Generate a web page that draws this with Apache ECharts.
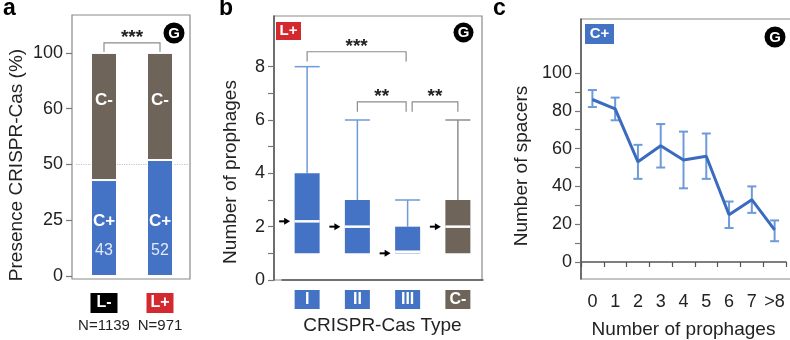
<!DOCTYPE html>
<html>
<head>
<meta charset="utf-8">
<script src="https://cdn.jsdelivr.net/npm/echarts@6/dist/echarts.min.js"></script>
<style>
html, body { margin: 0; padding: 0; background: #fff; }
#chart { width: 790px; height: 340px; }
</style>
</head>
<body>
<div id="chart"></div>
<script>
// ---- panel a : presence of CRISPR-Cas
var groupsA = ['L-', 'L+'];
var countsA = ['N=1139', 'N=971'];
var cPlusA = [43, 52];
var cMinusA = [57, 48];
var ticksA = [0, 25, 50, 75, 100];
var tickLabelsA = ['0', '25', '50', '60', '100'];
var bracketA = [[0, 1, 104.5, 100.5]]; // from cat, to cat, top, foot

// ---- panel b : prophages per CRISPR-Cas type
var typesB = ['I', 'II', 'III', 'C-'];
var boxB = [ // min, q1, median, q3, max
    [1, 1, 2.2, 4, 8],
    [1, 1, 2, 3, 6],
    [1, 1, 1.06, 2, 3],
    [1, 1, 2, 3, 6]
];
var arrowB = [2.2, 2, 1, 2];
var ticksB = [0, 1, 2, 3, 4, 5, 6, 7, 8];
var tickLabelsB = [0, 2, 4, 6, 8];
var bracketB = [ // from cat offset, to cat offset, top, foot
    [0, 1.97, 8.56, 8.19],
    [1, 1.97, 6.68, 6.31],
    [2.09, 3, 6.68, 6.31]
];
var starsB = ['***', '**', '**'];

// ---- panel c : spacers vs prophages
var prophagesC = ['0', '1', '2', '3', '4', '5', '6', '7', '>8'];
var spacersC = [86, 81, 53, 61.5, 54, 56, 25, 33, 17];
var spacersLow = [82, 75, 44, 50, 39, 44, 18, 26, 11];
var spacersHigh = [91, 87, 62, 73, 69, 68, 32, 40, 22];
var ticksC = [0, 10, 20, 30, 40, 50, 60, 70, 80, 90, 100];
var tickLabelsC = [0, 20, 40, 60, 80, 100];

var FONT = 'Liberation Sans, Arial, sans-serif';
var BLUE = '#4472c4';
var BROWN = '#6e6459';
var RED = '#d42a2f';

var chart = echarts.init(document.getElementById('chart'));

function bracketRender(stars) {
    return function (params, api) {
        var w = api.size([1, 0])[0];
        var c0 = api.coord([0, api.value(2)]);
        var x1 = c0[0] + api.value(0) * w;
        var x2 = c0[0] + api.value(1) * w;
        var yTop = c0[1];
        var yFoot = api.coord([0, api.value(3)])[1];
        var st = { stroke: '#8c8c8c', lineWidth: 1.2, fill: null };
        return {
            type: 'group',
            children: [
                { type: 'polyline', shape: { points: [[x1, yFoot], [x1, yTop], [x2, yTop], [x2, yFoot]] }, style: st },
                { type: 'text', x: (x1 + x2) / 2, y: yTop - 5,
                  style: { text: stars[params.dataIndex], fontSize: 19, fontWeight: 'bold', fontFamily: FONT,
                           fill: '#222', align: 'center', verticalAlign: 'middle' } }
            ]
        };
    };
}

// y axis with custom tick / label values; shift moves the centred name down
function yAxisBase(grid, min, max, ticks, labels, name, gap, shift, offset, lineColor) {
    return {
        type: 'value', gridIndex: grid, min: min, max: max, offset: offset,
        name: name, nameLocation: 'middle', nameGap: gap,
        nameTextStyle: { fontSize: 19, color: '#222', fontFamily: FONT, padding: [0, shift, 0, 0] },
        axisLine: { show: !!lineColor, lineStyle: { color: lineColor || '#888', width: 1.5 } },
        axisTick: { show: true, length: 6, customValues: ticks, lineStyle: { color: '#777', width: 1.2 } },
        axisLabel: { customValues: labels, fontSize: 18, color: '#222', fontFamily: FONT, margin: 9 },
        splitLine: { show: false }
    };
}

var yA = yAxisBase(0, -1.35, 117, ticksA, ticksA, 'Presence CRISPR-Cas (%)', 46, 36, 4, null);
yA.axisLabel.formatter = function (v) { return tickLabelsA[ticksA.indexOf(v)]; };
var yB = yAxisBase(1, 0, 9.9, ticksB, tickLabelsB, 'Number of prophages', 34, 48, 8, '#555');
var yC = yAxisBase(2, -9, 128.6, ticksC, tickLabelsC, 'Number of spacers', 50, 34, 0, '#555');

var richA = {
    k0: { backgroundColor: '#000', color: '#fff', fontWeight: 'bold', fontSize: 16, width: 27, height: 20, lineHeight: 20, align: 'center', fontFamily: FONT },
    k1: { backgroundColor: RED, color: '#fff', fontWeight: 'bold', fontSize: 16, width: 27, height: 20, lineHeight: 20, align: 'center', fontFamily: FONT },
    n: { fontSize: 15, color: '#222', lineHeight: 26, fontFamily: FONT }
};
var richB = {};
typesB.forEach(function (t, i) {
    richB['t' + i] = { backgroundColor: i === 3 ? BROWN : BLUE, color: '#fff', fontWeight: 'bold', fontSize: 16,
                       width: 25, height: 19, lineHeight: 19, align: 'center', fontFamily: FONT };
});

var option = {
    animation: false,
    textStyle: { fontFamily: FONT },
    grid: [
        { left: 76, top: 15, width: 112, height: 264, outerBoundsMode: 'none' },
        { left: 282, top: 16, width: 201, height: 264, outerBoundsMode: 'none' },
        { left: 581, top: 19, width: 205, height: 260, outerBoundsMode: 'none' }
    ],
    xAxis: [
        {
            type: 'category', gridIndex: 0, data: groupsA,
            axisLine: { show: false }, axisTick: { show: false },
            axisLabel: {
                margin: 14, interval: 0,
                formatter: function (v, i) { return '{k' + i + '|' + v + '}\n{n|' + countsA[i] + '}'; },
                rich: richA
            }
        },
        {
            type: 'category', gridIndex: 1, data: typesB,
            axisLine: { show: true, lineStyle: { color: '#555', width: 1.5 } }, axisTick: { show: false },
            name: 'CRISPR-Cas Type', nameLocation: 'middle', nameGap: 36,
            nameTextStyle: { fontSize: 19, color: '#222', fontFamily: FONT },
            axisLabel: {
                margin: 10, interval: 0,
                formatter: function (v, i) { return '{t' + i + '|' + v + '}'; },
                rich: richB
            }
        },
        {
            type: 'category', gridIndex: 2, data: prophagesC,
            axisLine: { show: true, lineStyle: { color: '#555', width: 1.5 } },
            axisTick: { show: true, length: 5, lineStyle: { color: '#555', width: 1.2 } },
            name: 'Number of prophages', nameLocation: 'middle', nameGap: 41,
            nameTextStyle: { fontSize: 19, color: '#222', fontFamily: FONT },
            axisLabel: { margin: 14, interval: 0, fontSize: 18, color: '#222', fontFamily: FONT }
        }
    ],
    yAxis: [yA, yB, yC],
    graphic: [
        { type: 'rect', shape: { x: 72, y: 15, width: 118, height: 264 }, style: { fill: null, stroke: '#8a8a8a', lineWidth: 1.2 }, z: 0 },
        { type: 'rect', shape: { x: 274, y: 16, width: 208, height: 264 }, style: { fill: null, stroke: '#8a8a8a', lineWidth: 1.2 }, z: 0 },
        { type: 'rect', shape: { x: 581, y: 19, width: 215, height: 260 }, style: { fill: null, stroke: '#8a8a8a', lineWidth: 1.2 }, z: 0 },
        { type: 'text', x: 3, y: 9, style: { text: 'a', fontSize: 23, fontWeight: 'bold', fill: '#000', fontFamily: FONT, verticalAlign: 'middle' } },
        { type: 'text', x: 219, y: 9, style: { text: 'b', fontSize: 23, fontWeight: 'bold', fill: '#000', fontFamily: FONT, verticalAlign: 'middle' } },
        { type: 'text', x: 493, y: 9, style: { text: 'c', fontSize: 23, fontWeight: 'bold', fill: '#000', fontFamily: FONT, verticalAlign: 'middle' } },
        { type: 'circle', shape: { cx: 174, cy: 33, r: 10.5 }, style: { fill: '#000' } },
        { type: 'text', x: 174, y: 33.5, style: { text: 'G', fontSize: 15, fontWeight: 'bold', fill: '#fff', fontFamily: FONT, align: 'center', verticalAlign: 'middle' } },
        { type: 'circle', shape: { cx: 463.5, cy: 32.5, r: 10 }, style: { fill: '#000' } },
        { type: 'text', x: 463.5, y: 33, style: { text: 'G', fontSize: 15, fontWeight: 'bold', fill: '#fff', fontFamily: FONT, align: 'center', verticalAlign: 'middle' } },
        { type: 'circle', shape: { cx: 775, cy: 37, r: 10.5 }, style: { fill: '#000' } },
        { type: 'text', x: 775, y: 37.5, style: { text: 'G', fontSize: 15, fontWeight: 'bold', fill: '#fff', fontFamily: FONT, align: 'center', verticalAlign: 'middle' } },
        { type: 'rect', shape: { x: 276, y: 22, width: 25, height: 18 }, style: { fill: RED } },
        { type: 'text', x: 288.5, y: 31, style: { text: 'L+', fontSize: 15, fontWeight: 'bold', fill: '#fff', fontFamily: FONT, align: 'center', verticalAlign: 'middle' } },
        { type: 'rect', shape: { x: 585, y: 24, width: 29, height: 20 }, style: { fill: BLUE } },
        { type: 'text', x: 599.5, y: 34, style: { text: 'C+', fontSize: 15, fontWeight: 'bold', fill: '#fff', fontFamily: FONT, align: 'center', verticalAlign: 'middle' } }
    ],
    series: [
        // panel a
        {
            type: 'line', xAxisIndex: 0, yAxisIndex: 0, data: [], z: 0,
            markLine: {
                silent: true, symbol: 'none', z: 0,
                label: { show: false },
                lineStyle: { color: '#c4c4c4', type: 'dotted', width: 1.2 },
                data: [{ yAxis: 50 }]
            }
        },
        {
            type: 'bar', xAxisIndex: 0, yAxisIndex: 0, stack: 'a', data: cPlusA, barWidth: 26, z: 2,
            itemStyle: { color: BLUE, borderColor: '#fff', borderWidth: 1 },
            label: {
                show: true, position: 'insideBottom', distance: 10,
                formatter: function (p) { return '{t|C+}\n{n|' + p.value + '}'; },
                rich: {
                    t: { fontSize: 17, fontWeight: 'bold', color: '#fff', lineHeight: 30, fontFamily: FONT },
                    n: { fontSize: 16, color: '#e3e9f5', lineHeight: 30, fontFamily: FONT }
                }
            }
        },
        {
            type: 'bar', xAxisIndex: 0, yAxisIndex: 0, stack: 'a', data: cMinusA, barWidth: 26, z: 2,
            itemStyle: { color: BROWN, borderColor: '#fff', borderWidth: 1 },
            label: {
                show: true, position: ['50%', 47], align: 'center', verticalAlign: 'middle',
                formatter: 'C-', fontSize: 17, fontWeight: 'bold', color: '#fff', fontFamily: FONT
            }
        },
        {
            type: 'custom', xAxisIndex: 0, yAxisIndex: 0, data: bracketA, encode: { x: 0, y: 2 },
            renderItem: bracketRender(['***']), z: 3, silent: true
        },
        // panel b
        {
            type: 'custom', xAxisIndex: 1, yAxisIndex: 1, silent: true, z: 2,
            data: boxB.map(function (b, i) { return [i].concat(b); }),
            encode: { x: 0, y: [1, 5] },
            renderItem: function (params, api) {
                var i = api.value(0);
                var cx = api.coord([i, 0])[0];
                var hw = 12.5;
                var yMin = api.coord([i, api.value(1)])[1];
                var yQ1 = api.coord([i, api.value(2)])[1];
                var yMed = api.coord([i, api.value(3)])[1];
                var yQ3 = api.coord([i, api.value(4)])[1];
                var yMax = api.coord([i, api.value(5)])[1];
                var fill = i === 3 ? BROWN : BLUE;
                var wc = i === 3 ? '#8e8e8e' : '#6d9ad8';
                var ws = { stroke: wc, lineWidth: 1.5 };
                return {
                    type: 'group',
                    children: [
                        { type: 'line', shape: { x1: cx, y1: yQ3, x2: cx, y2: yMax }, style: ws },
                        { type: 'line', shape: { x1: cx - hw, y1: yMax, x2: cx + hw, y2: yMax }, style: ws },
                        { type: 'line', shape: { x1: cx, y1: yMin, x2: cx, y2: yQ1 }, style: ws },
                        { type: 'rect', shape: { x: cx - hw, y: yQ3, width: 2 * hw, height: yQ1 - yQ3 }, style: { fill: fill } },
                        { type: 'line', shape: { x1: cx - hw, y1: yMed, x2: cx + hw, y2: yMed }, style: { stroke: '#fff', lineWidth: 2.5 } }
                    ]
                };
            }
        },
        {
            type: 'custom', xAxisIndex: 1, yAxisIndex: 1, silent: true, z: 3,
            data: arrowB.map(function (v, i) { return [i, v]; }),
            renderItem: function (params, api) {
                var p = api.coord([api.value(0), api.value(1)]);
                var tip = p[0] - 17;
                return {
                    type: 'group',
                    children: [
                        { type: 'line', shape: { x1: tip - 11, y1: p[1], x2: tip - 4, y2: p[1] }, style: { stroke: '#000', lineWidth: 2 } },
                        { type: 'polygon', shape: { points: [[tip, p[1]], [tip - 6, p[1] - 3.5], [tip - 6, p[1] + 3.5]] }, style: { fill: '#000' } }
                    ]
                };
            }
        },
        {
            type: 'custom', xAxisIndex: 1, yAxisIndex: 1, data: bracketB, encode: { x: 0, y: 2 },
            renderItem: bracketRender(starsB), z: 3, silent: true
        },
        // panel c
        {
            type: 'custom', xAxisIndex: 2, yAxisIndex: 2, silent: true, z: 2,
            data: spacersLow.map(function (v, i) { return [i, v, spacersHigh[i]]; }),
            encode: { x: 0, y: [1, 2] },
            renderItem: function (params, api) {
                var lo = api.coord([api.value(0), api.value(1)]);
                var hi = api.coord([api.value(0), api.value(2)]);
                var st = { stroke: '#6d9ad8', lineWidth: 2 };
                return {
                    type: 'group',
                    children: [
                        { type: 'line', shape: { x1: lo[0], y1: lo[1], x2: hi[0], y2: hi[1] }, style: st },
                        { type: 'line', shape: { x1: lo[0] - 4.5, y1: lo[1], x2: lo[0] + 4.5, y2: lo[1] }, style: st },
                        { type: 'line', shape: { x1: hi[0] - 4.5, y1: hi[1], x2: hi[0] + 4.5, y2: hi[1] }, style: st }
                    ]
                };
            }
        },
        {
            type: 'line', xAxisIndex: 2, yAxisIndex: 2, data: spacersC, z: 3,
            symbol: 'none', lineStyle: { color: '#3a6bbf', width: 3 }
        }
    ]
};

chart.setOption(option);
</script>
</body>
</html>
